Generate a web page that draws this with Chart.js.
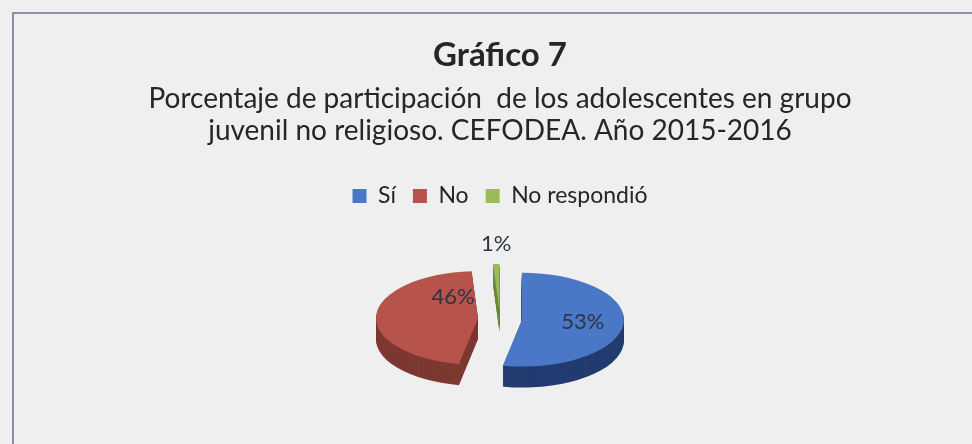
<!DOCTYPE html>
<html>
<head>
<meta charset="utf-8">
<script src="https://cdn.jsdelivr.net/npm/chart.js@4.4.0/dist/chart.umd.min.js"></script>
<style>
    html, body { margin: 0; padding: 0; background: #efefef; overflow: hidden; }
    #marco {
        position: absolute; left: 12px; top: 12px; width: 1000px; height: 460px;
        border-left: 2px solid #8c8f9e; border-top: 2px solid #8c8f9e;
    }
    #caja { position: absolute; left: 12px; top: 0; width: 976px; height: 444px; }
</style>
</head>
<body>
<div id="marco"></div>
<div id="caja"><canvas id="graficoPastel"></canvas></div>
<script>
const categorias = ["Sí", "No", "No respondió"];
const porcentajes = [53, 46, 1];

const colores = ["#4a77c6", "#b6534b", "#9bbb59"];
const coloresLado = ["#233c70", "#7d3832", "#6a8a36"];
const separacion = [22, 22, 17];
const ajusteEtiqueta = [[0, 0], [36, -19], [0, 0]];

const INCLINACION = 0.46;
const GROSOR = 21;

// pastel "3D": tapa aplastada + lados repetidos hacia abajo
const pastel3d = {
    id: "pastel3d",
    beforeDatasetDraw(chart, args) {
        const ctx = chart.ctx;
        const arcos = args.meta.data;
        const cy = arcos[0].y;

        const desplazar = (arc, i) => {
            const medio = (arc.startAngle + arc.endAngle) / 2;
            return [Math.cos(medio) * separacion[i], Math.sin(medio) * separacion[i]];
        };

        ctx.save();
        ctx.translate(0, cy);
        ctx.scale(1, INCLINACION);
        ctx.translate(0, -cy);

        for (let d = GROSOR; d > 0; d--) {
            arcos.forEach((arc, i) => {
                const [dx, dy] = desplazar(arc, i);
                const lado = Object.create(arc);
                lado.options = Object.assign({}, arc.options, {
                    backgroundColor: coloresLado[i],
                    borderColor: coloresLado[i]
                });
                ctx.save();
                ctx.translate(dx, dy + d / INCLINACION);
                lado.draw(ctx);
                ctx.restore();
            });
        }

        arcos.forEach((arc, i) => {
            const [dx, dy] = desplazar(arc, i);
            ctx.save();
            ctx.translate(dx, dy);
            arc.draw(ctx);
            ctx.restore();
        });
        ctx.restore();

        // etiquetas de porcentaje
        ctx.save();
        ctx.font = "22px Lato";
        ctx.fillStyle = "#2f3444";
        ctx.textAlign = "center";
        ctx.textBaseline = "middle";
        arcos.forEach((arc, i) => {
            const [dx, dy] = desplazar(arc, i);
            const medio = (arc.startAngle + arc.endAngle) / 2;
            const texto = porcentajes[i] + "%";
            let x, y;
            if (porcentajes[i] < 5) {
                x = arc.x + dx + Math.cos(medio) * arc.outerRadius;
                y = cy + (dy + Math.sin(medio) * arc.outerRadius) * INCLINACION - 20;
            } else {
                x = arc.x + dx + Math.cos(medio) * arc.outerRadius * 0.6 + ajusteEtiqueta[i][0];
                y = cy + (dy + Math.sin(medio) * arc.outerRadius * 0.6) * INCLINACION + ajusteEtiqueta[i][1];
            }
            ctx.fillText(texto, x, y);
        });
        ctx.restore();

        return false;
    }
};

const ctxPastel = document.getElementById("graficoPastel").getContext("2d");

let graficoPastel = new Chart(ctxPastel, {
    type: "pie",
    data: {
        labels: categorias,
        datasets: [
            {
                data: porcentajes,
                backgroundColor: colores,
                borderWidth: 0,
                radius: 102,
                clip: false
            }
        ]
    },
    options: {
        responsive: true,
        maintainAspectRatio: false,
        animation: false,
        layout: { padding: { top: 0, bottom: 24 } },
        plugins: {
            title: {
                display: true,
                text: "Gráfico 7",
                color: "#262626",
                font: { family: "Lato", size: 33, weight: "bold", lineHeight: 1.2 },
                padding: { top: 36, bottom: 0 }
            },
            subtitle: {
                display: true,
                text: [
                    "Porcentaje de participación  de los adolescentes en grupo",
                    "juvenil no religioso. CEFODEA. Año 2015-2016"
                ],
                color: "#262626",
                font: { family: "Lato", size: 28, lineHeight: 1.14 },
                padding: { top: 7, bottom: 21 }
            },
            legend: {
                position: "top",
                labels: {
                    color: "#262626",
                    font: { family: "Lato", size: 23 },
                    boxWidth: 14,
                    boxHeight: 14,
                    padding: 17
                }
            },
            tooltip: { enabled: false }
        }
    },
    plugins: [pastel3d]
});
</script>
</body>
</html>
